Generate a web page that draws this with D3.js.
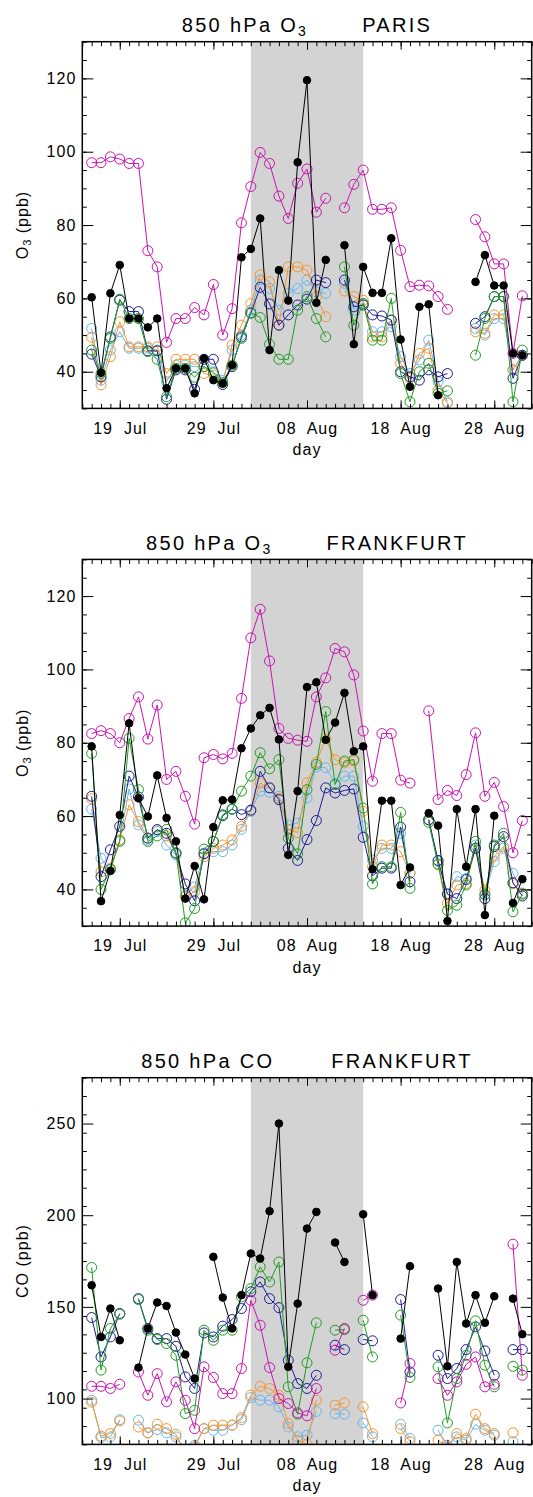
<!DOCTYPE html>
<html>
<head>
<meta charset="utf-8">
<script src="https://cdn.jsdelivr.net/npm/d3@7"></script>
<style>
  body { margin: 0; background: #fff; }
  text { font-family: "Liberation Sans", Arial, sans-serif; fill: #000; }
  .tick text { font-size: 16px; letter-spacing: 1px; white-space: pre; }
  .tick line { stroke: #000; stroke-width: 1; }
  .title { font-size: 20px; letter-spacing: 2.3px; white-space: pre; }
  .axis-label { font-size: 16px; letter-spacing: 1px; }
</style>
</head>
<body>
<svg id="chart" width="533" height="1497"></svg>
<script>
// x categories: one value per day, 16 Jul - 31 Aug
const days = [
  "2003-07-16","2003-07-17","2003-07-18","2003-07-19","2003-07-20","2003-07-21","2003-07-22","2003-07-23",
  "2003-07-24","2003-07-25","2003-07-26","2003-07-27","2003-07-28","2003-07-29","2003-07-30","2003-07-31",
  "2003-08-01","2003-08-02","2003-08-03","2003-08-04","2003-08-05","2003-08-06","2003-08-07","2003-08-08",
  "2003-08-09","2003-08-10","2003-08-11","2003-08-12","2003-08-13","2003-08-14","2003-08-15","2003-08-16",
  "2003-08-17","2003-08-18","2003-08-19","2003-08-20","2003-08-21","2003-08-22","2003-08-23","2003-08-24",
  "2003-08-25","2003-08-26","2003-08-27","2003-08-28","2003-08-29","2003-08-30","2003-08-31"
];
const xDomain = ["2003-07-15", "2003-09-01"];
const xTickLabels = ["2003-07-19", "2003-07-29", "2003-08-08", "2003-08-18", "2003-08-28"];
const shaded = ["2003-08-02", "2003-08-14"];

const seriesNames = ["lightblue", "orange", "darkblue", "green", "magenta", "obs"];
const seriesColors = ["#66b6f2", "#f7952c", "#1c1c96", "#1f9e1f", "#c814b0", "#000000"];

const _ = null;

// ---- panel 1: 850 hPa O3, PARIS (ppb)
const parisObs = [60.3,39.7,61.4,69.1,54.5,54.5,52.1,54.5,35.5,40.9,40.9,34.1,43.6,37.7,36.8,41.8,71.2,73.5,81.8,45.9,67.7,59.4,97.1,119.5,58.8,70.5,_,74.5,47.5,68.6,61.5,61.5,76.4,48.8,35.9,57.7,58.4,33.6,_,_,_,64.5,71.8,63.5,63.5,45,44.5];
const parisMagenta = [97,97,98.6,98,96.8,96.8,73,68.6,48,54.5,54.5,57.5,55.5,63.8,50,57.2,80.6,90.5,99.8,96.8,87.9,81.8,91.4,95.3,83.5,87.3,_,84.7,91.1,95,84.3,84.3,84.7,73.1,63.2,63.6,63.4,60.5,57,_,_,81.5,76.8,69.4,69.4,45,60.7];
const parisOrange = [49.4,36.4,44.1,53.6,46.8,46.8,46.8,46.8,39.5,43.4,43.4,43.4,39.5,39.1,37,47.3,52.7,58.6,66.4,64.5,52.7,68.6,68.6,67.7,60.5,55,_,62,60.5,59.5,49.5,49.5,54,42.3,38.2,45,46.4,35,31.4,_,_,50.9,50.5,55.5,55.5,40.5,44.5];
const parisLightBlue = [51.8,37.7,45.9,50.9,46.4,46.4,46.4,45.9,37.3,41.8,41.8,41.4,41.4,40,37.7,45.9,50,56.8,65,62.7,56.8,61.4,62.7,65,61.8,61.4,_,64.1,56.8,58.6,50.9,50.9,52.3,44.1,39.5,43.2,48.6,37.3,31.8,_,_,51.8,50,54.5,54.5,40.5,44.5];
const parisDarkBlue = [44.8,38.6,49.5,59.5,56.4,56.4,45.7,45.7,32.5,40.5,40.5,35.2,43.4,43.4,36.5,41.4,49.5,56,63,58.5,52.7,55.5,58.2,59.8,65,64.3,_,65,57.7,58.2,55.5,55.2,54.1,40,38.6,37.7,40.5,38.6,39.5,_,_,53.2,55,60.5,60.5,38.2,44.5];
const parisGreen = [45.9,39.5,49.1,59.8,54.5,54.5,45.5,43.4,33.2,40.9,40.9,38.5,41.4,39.7,37,41.8,49.1,56.1,54.8,47.5,43.4,43.4,56.8,60.5,54.5,49.5,_,68.6,52.7,58.6,48.6,48.6,60,39.5,31.8,40,42.3,34.1,34.8,_,_,44.5,54.5,60.5,60.5,31.8,45.9];

// ---- panel 2: 850 hPa O3, FRANKFURT (ppb)
const frankO3Obs = [79,36.8,45.1,60.3,85.3,64.9,59.9,71.1,59.5,53.1,37.5,46.4,37.3,57,64.3,64.5,78.5,83.9,87.5,89.5,80.9,49.4,66.8,95.2,96.5,80.8,85.5,93.6,77.7,79,45.5,64.2,64.2,41.2,46,_,60.8,57.4,31.4,61.9,46.2,61.9,33,60.1,_,36.3,42.8];
const frankO3Magenta = [82.5,83.3,82.5,80,86.6,92.5,81,90.3,70,72.2,65.4,57.8,75.9,76.8,75.6,77.1,92.1,108.6,116.4,102.3,83.9,81.2,80.7,80.4,92.5,97.7,105.7,104.8,98.5,83.2,69.5,82.5,82.5,69.8,69,_,88.7,64.5,67,65.6,71.3,82.7,65.4,69.2,62.6,50,58.8];
const frankO3Orange = [64.7,44.8,45.8,53.5,63.1,58.5,54,56.3,54.6,49.9,38,39.4,48.9,51.2,52.1,53.5,57.2,61.7,69,67.7,64.9,56.3,55.5,69.1,74.7,81.1,75.4,74.5,75,61.3,46.2,52.1,52.1,50.3,44.4,_,59,46.7,36.2,41.2,41.6,51.2,39.8,49,51.7,41.6,38.9];
const frankO3LightBlue = [61.9,48.5,45.3,53.5,67.4,57.6,53.5,55.8,52.1,49.4,38.4,40.7,49.9,50.3,50.3,52.1,56.4,61.3,66.8,66.5,65.4,57.6,58.1,65,73.4,73.2,68.9,70.9,70.9,57.2,48,51.2,51.2,55.3,44.4,_,59,47.6,38.9,43.5,43,52.1,38.7,47.6,51.2,44.4,39];
const frankO3DarkBlue = [65.4,43.5,50.8,57.2,70.9,65.2,54,56.3,55.3,49.9,41.5,36.9,49.7,53.1,60.1,61.9,60.4,61.6,72.2,67.7,64.5,51.2,47.9,53.6,58.8,67.7,66.3,67,67.4,54.2,43.7,45.8,45.8,57,42.1,_,59,47.9,38.7,37.5,42.7,51.2,37.5,51.7,54.4,41.8,38.2];
const frankO3Green = [77.1,40,45.5,53.1,81.2,67.2,53.1,54.6,56.4,50,30.9,34.8,51,53.1,60.4,61.9,66.8,70.9,77.3,72.9,75.4,54,49.7,67.2,74.1,88.5,68.6,75,75.4,62.2,41.5,46.2,46.2,61,40.3,_,58.3,46.9,34.3,35.7,41.2,53.1,38.5,52.1,55.3,33.9,38.7];

// ---- panel 3: 850 hPa CO, FRANKFURT (ppb)
const frankCOObs = [161.8,133.6,149.1,131.8,_,116.9,138.2,152.4,150.5,136,124,110.9,_,177.3,155.1,138.2,156.4,179.1,176.4,202.2,250,117.3,151.8,192.7,201.8,_,185.1,174.5,_,200.5,156.4,_,_,132.7,172.2,_,_,160,117.6,174.5,140.9,156.4,141.3,155.8,_,154.5,135.1];
const frankCOMagenta = [106.7,106.7,105.5,107.8,_,114.5,101.8,113.6,98.2,109.1,99.1,83.6,117.3,111.5,102.7,102.7,116.4,153.6,140,116.9,100,97.3,92.2,90.6,105.5,_,126.4,138.2,_,153.6,156.4,_,_,97.6,119.1,_,_,110.9,101.8,109.1,118.7,122.7,106.4,107.8,_,184.2,112.7];
const frankCOOrange = [98,79.5,80.9,87.8,_,84.5,81.3,86,83.6,80.5,70.9,73.6,83.6,85.5,85.5,85.5,89.6,101.8,106.7,105.5,101.8,86.4,77.3,75,99.1,_,96.4,97.6,_,95.5,80.9,_,_,83.6,76.4,_,_,77.3,73.6,80.9,78.2,91.5,83.6,80.9,_,81.3,_];
const frankCOLightBlue = [99.1,78.7,79.1,88.5,_,88.2,81.3,83.1,81.3,79.1,72,74.5,83.6,82.7,82.7,85.5,88.5,100.5,99.1,99.1,95.5,84.5,79.1,80,93,_,91.8,91.5,_,86.7,79.1,_,_,86,78.2,_,_,82.7,74.5,79.1,77.3,86,82.7,80,_,76.4,_];
const frankCODarkBlue = [144.2,122.7,133.6,146.4,_,154.5,138.2,132.7,132.7,128.5,111.8,105.5,135.8,133.6,139.5,143.1,149.1,158.2,163.6,154.5,149.6,120.9,108.2,105.5,112.7,_,129.1,126.7,_,132.2,131.5,_,_,154,114.5,_,_,123.6,110.9,116.4,126.7,139.1,126,112.7,_,126.7,126.7];
const frankCOGreen = [171.5,115.5,138.2,146,_,154,137.3,132.2,130,123.6,91.8,93.6,137.3,131.8,137.3,137.3,155.5,160,171.8,163.6,174.5,106.4,91.5,119.5,141.3,_,137.3,137.6,_,142.7,122.7,_,_,145.5,111.5,_,_,117.3,86.7,110.9,123.6,142.4,118.2,106.4,_,117.6,115.5];

const panels = [
  { species: "O", sub: "3", site: "PARIS", yLabel: "O", ySub: "3", domain: [30, 130], major: [40, 60, 80, 100, 120], minorStep: 5,
    series: [parisLightBlue, parisOrange, parisDarkBlue, parisGreen, parisMagenta, parisObs] },
  { species: "O", sub: "3", site: "FRANKFURT", yLabel: "O", ySub: "3", domain: [30, 130], major: [40, 60, 80, 100, 120], minorStep: 5,
    series: [frankO3LightBlue, frankO3Orange, frankO3DarkBlue, frankO3Green, frankO3Magenta, frankO3Obs] },
  { species: "CO", sub: "", site: "FRANKFURT", yLabel: "CO", ySub: "", domain: [75, 275], major: [100, 150, 200, 250], minorStep: 10,
    series: [frankCOLightBlue, frankCOOrange, frankCODarkBlue, frankCOGreen, frankCOMagenta, frankCOObs] }
];

const svg = d3.select("#chart");
const parse = d3.utcParse("%Y-%m-%d");
const left = 82.3, plotW = 449.4, plotH = 366.7;
const panelTops = [41.7, 559.4, 1077.7];

const x = d3.scaleUtc()
  .domain(xDomain.map(parse))
  .range([0, plotW]);

const fmt = d3.utcFormat("%d  %b");
const dayTicks = d3.utcDay.range(parse(xDomain[0]), d3.utcDay.offset(parse(xDomain[1]), 1));

panels.forEach((p, pi) => {
  const g = svg.append("g")
    .attr("transform", `translate(${left},${panelTops[pi]})`);

  const y = d3.scaleLinear()
    .domain(p.domain)
    .range([plotH, 0]);

  const minorY = d3.range(p.domain[0], p.domain[1] + 0.001, p.minorStep);

  // shaded period
  g.append("rect")
    .attr("x", x(parse(shaded[0])))
    .attr("y", 0)
    .attr("width", x(parse(shaded[1])) - x(parse(shaded[0])))
    .attr("height", plotH)
    .attr("fill", "#d3d3d3");

  g.append("clipPath")
    .attr("id", `clip${pi}`)
    .append("rect")
    .attr("width", plotW)
    .attr("height", plotH);

  const data = p.series.map(vals => vals.map((v, i) => ({ date: parse(days[i]), v })));

  const line = d3.line()
    .defined(d => d.v != null)
    .x(d => x(d.date))
    .y(d => y(d.v));

  const plot = g.append("g").attr("clip-path", `url(#clip${pi})`);

  data.forEach((s, si) => {
    const col = seriesColors[si];
    const isObs = seriesNames[si] === "obs";
    plot.append("path")
      .datum(s)
      .attr("fill", "none")
      .attr("stroke", col)
      .attr("stroke-width", 1)
      .attr("d", line);

    plot.selectAll(`.pt${si}`)
      .data(s.filter(d => d.v != null))
      .enter()
      .append("circle")
      .attr("class", `pt${si}`)
      .attr("cx", d => x(d.date))
      .attr("cy", d => y(d.v))
      .attr("r", isObs ? 3.8 : 5)
      .attr("fill", isObs ? col : "none")
      .attr("stroke", col)
      .attr("stroke-width", 1);
  });

  const clean = sel => { sel.select(".domain").remove(); sel.attr("font-size", null).attr("font-family", null); };

  // bottom axis with labels
  g.append("g")
    .attr("transform", `translate(0,${plotH})`)
    .call(d3.axisBottom(x).tickValues(xTickLabels.map(parse)).tickSize(-8).tickPadding(14).tickFormat(fmt))
    .call(clean);
  g.append("g")
    .attr("transform", `translate(0,${plotH})`)
    .call(d3.axisBottom(x).tickValues(dayTicks).tickSize(-4.5).tickFormat(""))
    .call(clean);
  // top axis
  g.append("g")
    .call(d3.axisTop(x).tickValues(xTickLabels.map(parse)).tickSize(-8).tickFormat(""))
    .call(clean);
  g.append("g")
    .call(d3.axisTop(x).tickValues(dayTicks).tickSize(-4.5).tickFormat(""))
    .call(clean);
  // left axis
  g.append("g")
    .call(d3.axisLeft(y).tickValues(p.major).tickSize(-11).tickPadding(6))
    .call(clean);
  g.append("g")
    .call(d3.axisLeft(y).tickValues(minorY).tickSize(-4.5).tickFormat(""))
    .call(clean);
  // right axis
  g.append("g")
    .attr("transform", `translate(${plotW},0)`)
    .call(d3.axisRight(y).tickValues(p.major).tickSize(-11).tickFormat(""))
    .call(clean);
  g.append("g")
    .attr("transform", `translate(${plotW},0)`)
    .call(d3.axisRight(y).tickValues(minorY).tickSize(-4.5).tickFormat(""))
    .call(clean);

  // frame
  g.append("rect")
    .attr("width", plotW)
    .attr("height", plotH)
    .attr("fill", "none")
    .attr("stroke", "#000")
    .attr("stroke-width", 1.5);

  // title
  const t = g.append("text")
    .attr("class", "title")
    .attr("x", plotW / 2)
    .attr("y", -9.5)
    .attr("text-anchor", "middle");
  t.append("tspan").text(`850 hPa ${p.species}`);
  if (p.sub) {
    t.append("tspan").attr("dy", 4).attr("font-size", 14).text(p.sub);
    t.append("tspan").attr("dy", -4).attr("dx", 54).text(p.site);
  } else {
    t.append("tspan").attr("dx", 57).text(p.site);
  }

  // x label
  g.append("text")
    .attr("class", "axis-label")
    .attr("x", plotW / 2)
    .attr("y", plotH + 47)
    .attr("text-anchor", "middle")
    .text("day");

  // y label
  const yl = g.append("text")
    .attr("class", "axis-label")
    .attr("transform", `translate(${28 - left},${plotH / 2}) rotate(-90)`)
    .attr("text-anchor", "middle");
  yl.append("tspan").text(p.yLabel);
  if (p.ySub) {
    yl.append("tspan").attr("dy", 3).attr("font-size", 11).text(p.ySub);
    yl.append("tspan").attr("dy", -3).text(" (ppb)");
  } else {
    yl.append("tspan").text(" (ppb)");
  }
});
</script>
</body>
</html>
